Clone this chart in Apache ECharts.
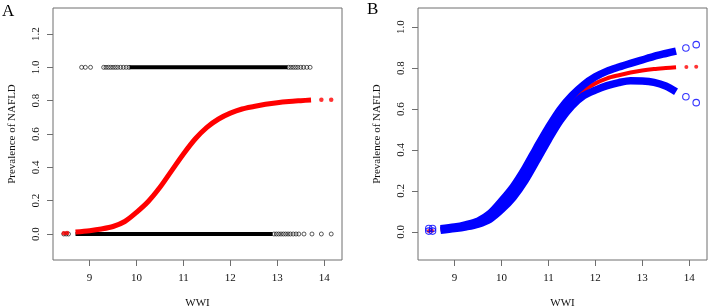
<!DOCTYPE html>
<html>
<head>
<meta charset="utf-8">
<script src="https://cdn.jsdelivr.net/npm/echarts@6/dist/echarts.min.js"></script>
<style>
html, body { margin: 0; padding: 0; background: #fff; }
#chart { width: 708px; height: 308px; }
</style>
</head>
<body>
<div id="chart"></div>
<script>
// tick labels
var xTicks = [9, 10, 11, 12, 13, 14];
var yTicksA = [0, 0.2, 0.4, 0.6, 0.8, 1.0, 1.2];
var yTicksB = [0, 0.2, 0.4, 0.6, 0.8, 1.0];

// panel A: observed outcome (0/1), sparse circles + dense stretch
var oneX = [8.83, 8.91, 9.02, 9.30, 9.35, 9.40, 9.45, 9.50, 9.55, 9.60, 9.66, 9.72, 9.78, 9.84,
            13.24, 13.29, 13.34, 13.39, 13.44, 13.50, 13.56, 13.63, 13.70];
var oneDense = [9.85, 13.22];
var zeroX = [8.45, 8.50, 8.55, 12.93, 12.98, 13.03, 13.08, 13.13, 13.18, 13.23, 13.28,
             13.34, 13.40, 13.46, 13.57, 13.74, 13.94, 14.15];
var zeroDense = [8.70, 12.90];

// fitted prevalence (red)
var fitX = [8.70, 9.00, 9.25, 9.50, 9.75, 10.00, 10.25, 10.50, 10.75, 11.00, 11.25,
            11.50, 11.75, 12.00, 12.25, 12.50, 12.75, 13.00, 13.25, 13.50, 13.72];
var fitY = [0.012, 0.020, 0.030, 0.045, 0.075, 0.130, 0.195, 0.280, 0.380, 0.480, 0.570,
            0.640, 0.690, 0.725, 0.750, 0.765, 0.778, 0.788, 0.795, 0.800, 0.804];
var fitEndX = [8.45, 8.52, 13.94, 14.15];
var fitEndY = [0.005, 0.006, 0.805, 0.806];

// panel B: confidence limits (blue)
var upperY = [0.016, 0.024, 0.036, 0.053, 0.089, 0.151, 0.221, 0.310, 0.412, 0.510, 0.598,
              0.665, 0.718, 0.757, 0.785, 0.805, 0.823, 0.840, 0.857, 0.871, 0.883];
var lowerY = [0.008, 0.016, 0.025, 0.038, 0.062, 0.109, 0.169, 0.250, 0.349, 0.450, 0.543,
              0.615, 0.665, 0.692, 0.714, 0.729, 0.738, 0.737, 0.730, 0.712, 0.684];
var ciEndX = [8.45, 8.53, 13.93, 14.15];
var upperEndY = [0.017, 0.017, 0.898, 0.914];
var lowerEndY = [0.004, 0.004, 0.660, 0.631];

var serif = 'Liberation Serif';
var boxColor = '#6e6e6e';

function pairs(xs, ys) {
    return xs.map(function (x, i) { return [x, ys[i]]; });
}
function flat(xs, y) {
    return xs.map(function (x) { return [x, y]; });
}

function xAxisFor(idx) {
    return {
        type: 'value', gridIndex: idx, min: 8.22, max: 14.38,
        name: 'WWI', nameLocation: 'middle', nameGap: 38,
        nameTextStyle: { fontFamily: serif, fontSize: 11, color: '#111' },
        axisLine: { show: false, onZero: false },
        splitLine: { show: false },
        axisTick: { show: true, length: 6, customValues: xTicks, lineStyle: { color: boxColor } },
        axisLabel: { customValues: xTicks, margin: 13, fontFamily: serif, fontSize: 11, color: '#111' }
    };
}
function yAxisFor(idx, min, max, ticks) {
    return {
        type: 'value', gridIndex: idx, min: min, max: max,
        name: 'Prevalence of NAFLD', nameLocation: 'middle', nameGap: 35,
        nameTextStyle: { fontFamily: serif, fontSize: 11, color: '#111' },
        axisLine: { show: false, onZero: false },
        splitLine: { show: false },
        axisTick: { show: true, length: 6, customValues: ticks, lineStyle: { color: boxColor } },
        axisLabel: {
            customValues: ticks, rotate: 90, margin: 11,
            fontFamily: serif, fontSize: 11, color: '#111',
            formatter: function (v) { return v.toFixed(1); }
        }
    };
}

var openBlack = { color: 'transparent', borderColor: '#000', borderWidth: 0.8 };
var openBlue = { color: 'transparent', borderColor: '#0000ff', borderWidth: 1.1 };

var option = {
    animation: false,
    backgroundColor: '#fff',
    title: [
        { text: 'A', left: 2, top: 3, padding: 0, textStyle: { fontFamily: serif, fontSize: 17, fontWeight: 'normal', color: '#000' } },
        { text: 'B', left: 367, top: 1, padding: 0, textStyle: { fontFamily: serif, fontSize: 17, fontWeight: 'normal', color: '#000' } }
    ],
    grid: [
        { left: 53, top: 8, width: 289, height: 252, containLabel: false, outerBoundsMode: 'none',
          show: true, borderColor: boxColor, borderWidth: 1 },
        { left: 418, top: 8, width: 289, height: 252, containLabel: false, outerBoundsMode: 'none',
          show: true, borderColor: boxColor, borderWidth: 1 }
    ],
    xAxis: [xAxisFor(0), xAxisFor(1)],
    yAxis: [yAxisFor(0, -0.156, 1.356, yTicksA), yAxisFor(1, -0.137, 1.093, yTicksB)],
    series: [
        // ---- A ----
        { type: 'line', xAxisIndex: 0, yAxisIndex: 0, data: flat(oneDense, 1), symbol: 'none',
          lineStyle: { color: '#000', width: 4 } },
        { type: 'line', xAxisIndex: 0, yAxisIndex: 0, data: flat(zeroDense, 0), symbol: 'none',
          lineStyle: { color: '#000', width: 4 } },
        { type: 'scatter', xAxisIndex: 0, yAxisIndex: 0, data: flat(oneX, 1), symbolSize: 4, itemStyle: openBlack },
        { type: 'scatter', xAxisIndex: 0, yAxisIndex: 0, data: flat(zeroX, 0), symbolSize: 4, itemStyle: openBlack },
        { type: 'line', xAxisIndex: 0, yAxisIndex: 0, data: pairs(fitX, fitY), symbol: 'none',
          smooth: 0.3, lineStyle: { color: '#ff0000', width: 5 } },
        { type: 'scatter', xAxisIndex: 0, yAxisIndex: 0, data: pairs(fitEndX, fitEndY), symbolSize: 4.5,
          itemStyle: { color: '#ff0000' } },
        // ---- B ----
        { type: 'line', xAxisIndex: 1, yAxisIndex: 1, data: pairs(fitX, fitY), symbol: 'none',
          smooth: 0.3, lineStyle: { color: '#ff0000', width: 4 } },
        { type: 'scatter', xAxisIndex: 1, yAxisIndex: 1, data: pairs(fitEndX, fitEndY), symbolSize: 4,
          itemStyle: { color: '#ff0000' } },
        { type: 'line', xAxisIndex: 1, yAxisIndex: 1, data: pairs(fitX, upperY), symbol: 'none',
          smooth: 0.3, lineStyle: { color: '#0000ff', width: 7.5 } },
        { type: 'line', xAxisIndex: 1, yAxisIndex: 1, data: pairs(fitX, lowerY), symbol: 'none',
          smooth: 0.3, lineStyle: { color: '#0000ff', width: 7.5 } },
        { type: 'scatter', xAxisIndex: 1, yAxisIndex: 1, data: pairs(ciEndX, upperEndY), symbolSize: 6.5, itemStyle: openBlue },
        { type: 'scatter', xAxisIndex: 1, yAxisIndex: 1, data: pairs(ciEndX, lowerEndY), symbolSize: 6.5, itemStyle: openBlue }
    ]
};

var chart = echarts.init(document.getElementById('chart'));
chart.setOption(option);
</script>
</body>
</html>
